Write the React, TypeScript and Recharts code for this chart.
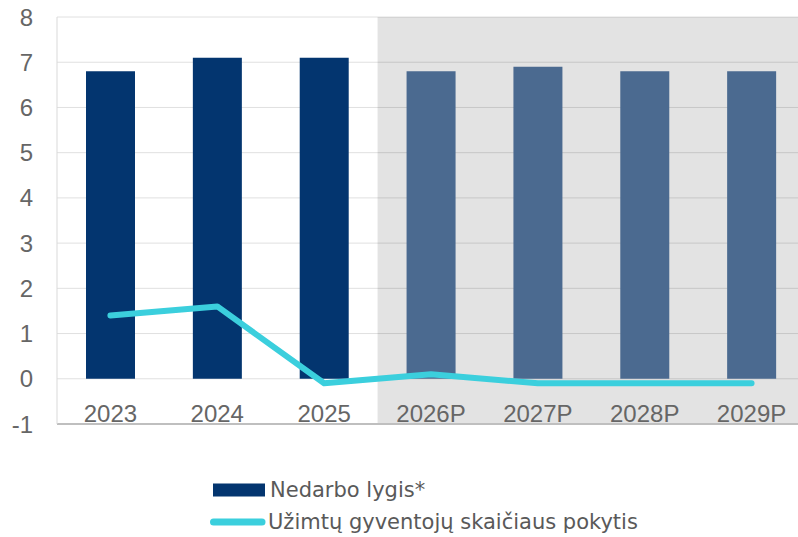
import React from 'react';
import {
    ComposedChart,
    Bar,
    Line,
    Cell,
    XAxis,
    YAxis,
    CartesianGrid,
    ReferenceArea,
    Legend
} from 'recharts';

const years = ['2023', '2024', '2025', '2026P', '2027P', '2028P', '2029P'];
const unemploymentRate = [6.8, 7.1, 7.1, 6.8, 6.9, 6.8, 6.8];
const employmentChange = [1.4, 1.6, -0.1, 0.1, -0.1, -0.1, -0.1];
const yTicks = [-1, 0, 1, 2, 3, 4, 5, 6, 7, 8];

const data = years.map((year, i) => ({
    year,
    rate: unemploymentRate[i],
    change: employmentChange[i]
}));

const NAVY = '#03356f';
const SLATE = '#4b6a90';
const CYAN = '#3bcfdd';
const TEXT = '#666666';
const AXIS_FONT = '"Liberation Sans", Arial, sans-serif';

// x labels sit inside the plot, between 0 and -1
const XTick = ({ x, y, payload }: any) => (
    <text x={x} y={y - 2} textAnchor="middle" fill={TEXT} fontSize={24} fontFamily={AXIS_FONT}>
        {payload.value}
    </text>
);

const LegendContent = () => (
    <div style={{ fontFamily: '"DejaVu Sans", sans-serif', fontSize: 21, color: '#595959', lineHeight: '32px', whiteSpace: 'nowrap' }}>
        <div style={{ display: 'flex', alignItems: 'center', height: 32 }}>
            <svg width={62} height={32}>
                <rect x={5} y={9.5} width={52} height={13} fill={NAVY} />
            </svg>
            <span>Nedarbo lygis*</span>
        </div>
        <div style={{ display: 'flex', alignItems: 'center', height: 32 }}>
            <svg width={60} height={32}>
                <line x1={5.5} y1={16} x2={54} y2={16} stroke={CYAN} strokeWidth={7} strokeLinecap="round" />
            </svg>
            <span>Užimtų gyventojų skaičiaus pokytis</span>
        </div>
    </div>
);

export default function App() {
    return (
        <div style={{ position: 'absolute', left: 0, top: 0, width: 798, height: 537, overflow: 'hidden', background: '#fff' }}>
            <ComposedChart
                width={806}
                height={537}
                data={data}
                margin={{ top: 17, right: 1, bottom: 83, left: 0 }}
            >
                <ReferenceArea x1="2026P" x2="2029P" fill="#000000" fillOpacity={0.11} stroke="none" ifOverflow="visible" />
                <CartesianGrid horizontal={true} vertical={false} stroke="#e0e0e0" strokeWidth={1} />
                <XAxis
                    dataKey="year"
                    height={30}
                    tickSize={0}
                    tickMargin={0}
                    axisLine={{ stroke: '#bfbfbf', strokeWidth: 2 }}
                    tickLine={false}
                    tick={<XTick />}
                    interval={0}
                />
                <YAxis
                    width={57}
                    domain={[-1, 8]}
                    ticks={yTicks}
                    interval={0}
                    tickSize={0}
                    tickMargin={24}
                    axisLine={{ stroke: '#d9d9d9', strokeWidth: 1 }}
                    tickLine={false}
                    tick={{ fill: TEXT, fontSize: 24, fontFamily: AXIS_FONT }}
                />
                <Bar dataKey="rate" name="Nedarbo lygis*" barSize={49} isAnimationActive={false}>
                    {data.map((d, i) => (
                        <Cell key={i} fill={d.year.endsWith('P') ? SLATE : NAVY} />
                    ))}
                </Bar>
                <Line
                    type="linear"
                    dataKey="change"
                    name="Užimtų gyventojų skaičiaus pokytis"
                    stroke={CYAN}
                    strokeWidth={6}
                    strokeLinecap="round"
                    strokeLinejoin="round"
                    dot={false}
                    activeDot={false}
                    isAnimationActive={false}
                />
                <Legend
                    layout="horizontal"
                    verticalAlign="middle"
                    align="center"
                    content={<LegendContent />}
                    wrapperStyle={{ left: 208, top: 474, width: 'auto', height: 'auto' }}
                />
            </ComposedChart>
        </div>
    );
}
